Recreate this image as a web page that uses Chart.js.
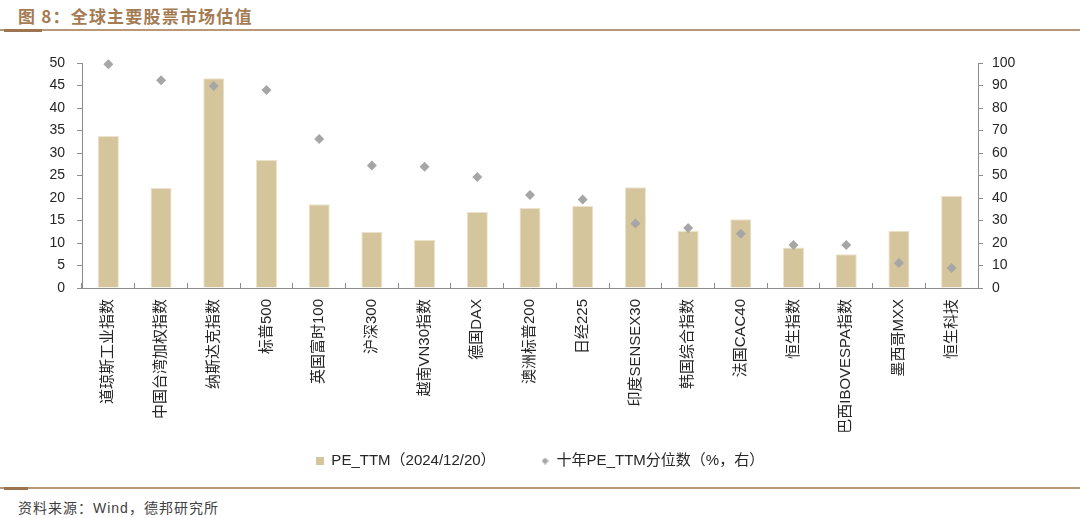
<!DOCTYPE html>
<html>
<head>
<meta charset="utf-8">
<script src="https://cdn.jsdelivr.net/npm/chart.js@4/dist/chart.umd.min.js"></script>
<style>
  body { margin: 0; width: 1080px; height: 518px; background: #fff; position: relative; overflow: hidden;
         font-family: "Liberation Sans", "Noto Sans CJK SC", sans-serif; }
  #title { position: absolute; left: 18px; top: 3px; font-size: 17px; font-weight: bold; color: #A57B53;
           letter-spacing: 1.2px; font-family: "Noto Sans CJK SC", sans-serif; }
  .rule { position: absolute; left: 0; width: 1080px; height: 2px; background: #B9987A; }
  .rule b { position: absolute; left: 4px; top: -0.5px; height: 3px; background: #9C7450; }
  #wrap { position: absolute; left: 0; top: 36px; width: 1080px; height: 450px; }
  #foot { position: absolute; left: 18px; top: 497px; font-size: 14px; color: #404040; letter-spacing: 1px;
          font-family: "Liberation Sans", "Noto Sans CJK SC", sans-serif; }
</style>
</head>
<body>
<div id="title">图 8：全球主要股票市场估值</div>
<div class="rule" style="top:29px"><b style="width:38px"></b></div>
<div id="wrap"><canvas id="c"></canvas></div>
<div class="rule" style="top:487px"><b style="width:24px"></b></div>
<div id="foot">资料来源：Wind，德邦研究所</div>
<script>
// 指数名称
const categories = ['道琼斯工业指数', '中国台湾加权指数', '纳斯达克指数', '标普500', '英国富时100', '沪深300',
    '越南VN30指数', '德国DAX', '澳洲标普200', '日经225', '印度SENSEX30', '韩国综合指数', '法国CAC40',
    '恒生指数', '巴西IBOVESPA指数', '墨西哥MXX', '恒生科技'];

// PE_TTM（2024/12/20）
const peTTM = [33.8, 22.2, 46.6, 28.5, 18.6, 12.5, 10.7, 16.9, 17.8, 18.2, 22.4, 12.7, 15.3, 9.0, 7.5, 12.7, 20.5];

// 十年PE_TTM分位数（%）
const percentile = [99.4, 92.3, 89.8, 88.0, 66.2, 54.4, 53.9, 49.3, 41.3, 39.3, 28.7, 26.7, 24.1, 19.1, 19.1, 11.1, 8.9];

const seriesNames = ['PE_TTM（2024/12/20）', '十年PE_TTM分位数（%，右）'];

const barColor = '#D5C59D';
const dotColor = '#A6A6A6';
const axisColor = '#8C8C8C';
const textColor = '#262626';
const fontFamily = '"Liberation Sans", "Noto Sans CJK SC", sans-serif';

// petites icônes pour la légende
function legendIcon(kind) {
    const cv = document.createElement('canvas');
    const g = cv.getContext('2d');
    if (kind === 'box') {
        cv.width = 8; cv.height = 8;
        g.fillStyle = barColor;
        g.fillRect(0, 0, 8, 8);
    } else if (kind === 'diamond') {
        cv.width = 7; cv.height = 7;
        g.fillStyle = dotColor;
        g.beginPath();
        g.moveTo(3.5, 0); g.lineTo(7, 3.5); g.lineTo(3.5, 7); g.lineTo(0, 3.5);
        g.closePath(); g.fill();
    } else {
        cv.width = 1; cv.height = 1; // vide
    }
    return cv;
}
const icons = [legendIcon('box'), legendIcon('diamond')];
const blankIcon = legendIcon('blank');

new Chart(document.getElementById('c'), {
    data: {
        labels: categories,
        datasets: [{
            type: 'bar',
            label: seriesNames[0],
            data: peTTM,
            backgroundColor: barColor,
            borderColor: '#EDE3CB',
            borderWidth: 1,
            barPercentage: 0.4,
            categoryPercentage: 1,
            yAxisID: 'y',
            order: 2
        }, {
            type: 'line',
            label: seriesNames[1],
            data: percentile,
            showLine: false,
            clip: false,
            pointStyle: 'rectRot',
            pointRadius: 5,
            pointHoverRadius: 5,
            pointBackgroundColor: dotColor,
            pointBorderWidth: 0,
            borderColor: dotColor,
            yAxisID: 'y1',
            order: 1
        }]
    },
    options: {
        responsive: true,
        maintainAspectRatio: false,
        animation: false,
        layout: { padding: { top: 27, bottom: 7.5, left: 0, right: 0 } },
        plugins: {
            tooltip: { enabled: false },
            legend: {
                position: 'bottom',
                labels: {
                    usePointStyle: true,
                    boxWidth: 8,
                    boxHeight: 8,
                    padding: 15,
                    color: textColor,
                    font: { family: fontFamily, size: 15 },
                    generateLabels(chart) {
                        const items = Chart.defaults.plugins.legend.labels.generateLabels(chart)
                            .sort((a, b) => a.datasetIndex - b.datasetIndex);
                        items.forEach(it => { it.pointStyle = icons[it.datasetIndex]; });
                        // espace vide entre les deux entrées
                        items.splice(1, 0, { text: '', pointStyle: blankIcon, fillStyle: 'rgba(0,0,0,0)',
                            strokeStyle: 'rgba(0,0,0,0)', lineWidth: 0, hidden: false, datasetIndex: -1,
                            fontColor: 'rgba(0,0,0,0)' });
                        return items;
                    }
                }
            }
        },
        scales: {
            x: {
                grid: { display: true, drawOnChartArea: false, drawTicks: true, tickLength: -5,
                        color: axisColor, tickColor: axisColor },
                border: { color: axisColor },
                ticks: { minRotation: 90, maxRotation: 90, padding: 16, autoSkip: false,
                         color: textColor, font: { family: fontFamily, size: 15 } },
                afterFit(scale) { scale.height = 150.5; }
            },
            y: {
                position: 'left',
                min: 0, max: 50,
                ticks: { stepSize: 5, padding: 12, autoSkip: false, color: textColor,
                         font: { family: fontFamily, size: 14 } },
                grid: { drawOnChartArea: false, tickLength: 5, color: axisColor, tickColor: axisColor },
                border: { color: axisColor },
                afterFit(scale) { scale.width = 82; }
            },
            y1: {
                position: 'right',
                min: 0, max: 100,
                ticks: { stepSize: 10, padding: 9, autoSkip: false, color: textColor,
                         font: { family: fontFamily, size: 14 } },
                grid: { drawOnChartArea: false, tickLength: 5, color: axisColor, tickColor: axisColor },
                border: { color: axisColor },
                afterFit(scale) { scale.width = 102; }
            }
        }
    }
});
</script>
</body>
</html>
